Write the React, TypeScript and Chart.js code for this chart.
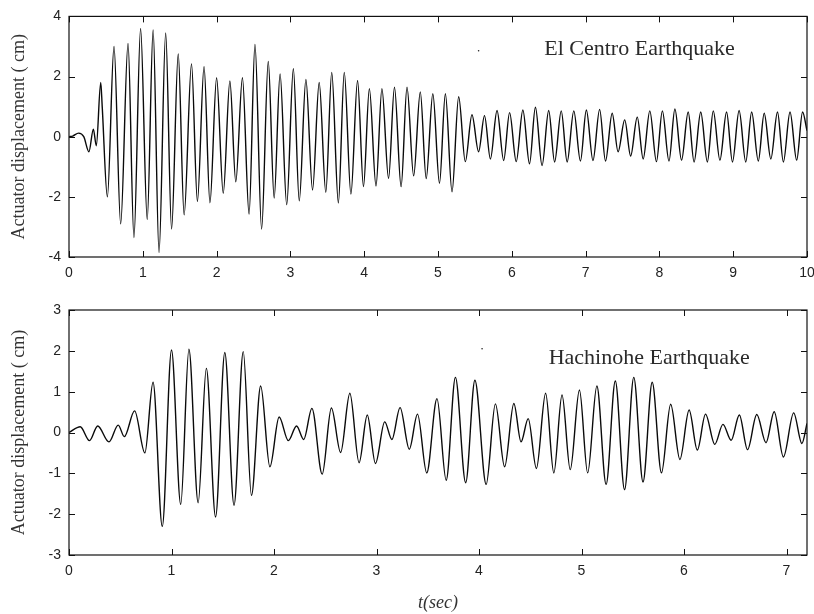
import React, { useEffect, useRef } from "react";
import { Chart, registerables } from "chart.js";

Chart.register(...registerables);

// ---- El Centro record (time in s, displacement in cm), read at peaks / troughs ----
const elCentroTime = [
  0, 0.05, 0.13, 0.2, 0.27, 0.33, 0.37, 0.43, 0.45, 0.52,
  0.61, 0.7, 0.8, 0.88, 0.97, 1.06, 1.14, 1.22, 1.31, 1.39,
  1.48, 1.56, 1.66, 1.74, 1.83, 1.91, 2.0, 2.09, 2.18, 2.26,
  2.35, 2.44, 2.52, 2.61, 2.7, 2.78, 2.86, 2.95, 3.04, 3.12,
  3.21, 3.3, 3.39, 3.48, 3.56, 3.65, 3.73, 3.82, 3.91, 3.99,
  4.07, 4.16, 4.24, 4.33, 4.41, 4.5, 4.58, 4.67, 4.76, 4.84,
  4.93, 5.02, 5.1, 5.19, 5.28, 5.37, 5.46, 5.55, 5.63, 5.71,
  5.8, 5.89, 5.97, 6.06, 6.15, 6.24, 6.32, 6.41, 6.5, 6.58,
  6.67, 6.75, 6.84, 6.93, 7.01, 7.1, 7.19, 7.27, 7.36, 7.44,
  7.53, 7.61, 7.7, 7.78, 7.87, 7.96, 8.04, 8.13, 8.21, 8.3,
  8.39, 8.47, 8.56, 8.65, 8.73, 8.82, 8.91, 8.99, 9.08, 9.17,
  9.25, 9.34, 9.42, 9.51, 9.6, 9.68, 9.77, 9.86, 9.94, 10.0,
];
const elCentroDisp = [
  0, 0.02, 0.12, 0.0, -0.5, 0.25, -0.3, 1.8, 1.0, -2.0,
  3.0, -2.9, 3.1, -3.35, 3.6, -2.75, 3.55, -3.85, 3.45, -3.07,
  2.75, -2.6, 2.42, -2.15, 2.33, -2.2, 1.96, -1.88, 1.85, -1.5,
  1.96, -2.57, 3.07, -3.07, 2.5, -2.04, 2.09, -2.26, 2.26, -2.13,
  1.9, -1.77, 1.8, -1.85, 2.14, -2.2, 2.14, -1.91, 1.87, -1.66,
  1.6, -1.64, 1.6, -1.39, 1.65, -1.66, 1.65, -1.3, 1.49, -1.39,
  1.43, -1.55, 1.43, -1.83, 1.33, -0.83, 0.73, -0.5, 0.7, -0.74,
  0.87, -0.79, 0.8, -0.83, 0.89, -0.9, 0.98, -0.96, 0.87, -0.84,
  0.86, -0.84, 0.86, -0.81, 0.89, -0.79, 0.91, -0.81, 0.78, -0.5,
  0.56, -0.64, 0.65, -0.74, 0.86, -0.83, 0.86, -0.81, 0.92, -0.78,
  0.82, -0.84, 0.82, -0.84, 0.86, -0.78, 0.82, -0.84, 0.87, -0.84,
  0.82, -0.81, 0.78, -0.74, 0.82, -0.84, 0.82, -0.78, 0.82, 0.2,
];

// ---- Hachinohe record ----
const hachinoheTime = [
  0, 0.11, 0.2, 0.28, 0.39, 0.48, 0.54, 0.64, 0.74, 0.82,
  0.91, 1.0, 1.09, 1.17, 1.26, 1.34, 1.43, 1.52, 1.61, 1.7,
  1.78, 1.87, 1.96, 2.05, 2.14, 2.22, 2.29, 2.37, 2.47, 2.56,
  2.65, 2.74, 2.83, 2.91, 2.99, 3.08, 3.15, 3.23, 3.32, 3.4,
  3.49, 3.59, 3.68, 3.77, 3.87, 3.96, 4.07, 4.16, 4.25, 4.34,
  4.41, 4.48, 4.56, 4.65, 4.73, 4.81, 4.89, 4.98, 5.06, 5.15,
  5.24, 5.33, 5.42, 5.51, 5.6, 5.69, 5.78, 5.87, 5.96, 6.05,
  6.13, 6.21, 6.3, 6.38, 6.46, 6.54, 6.62, 6.71, 6.8, 6.88,
  6.97, 7.07, 7.15, 7.2,
];
const hachinoheDisp = [
  0, 0.14, -0.2, 0.16, -0.23, 0.18, -0.1, 0.53, -0.5, 1.23,
  -2.3, 2.02, -1.76, 2.04, -1.72, 1.57, -2.07, 1.96, -1.78, 1.98,
  -1.54, 1.14, -0.84, 0.38, -0.2, 0.16, -0.17, 0.59, -1.02, 0.6,
  -0.49, 0.96, -0.74, 0.43, -0.76, 0.26, -0.17, 0.61, -0.41, 0.45,
  -0.99, 0.83, -1.17, 1.35, -1.23, 1.28, -1.27, 0.7, -0.84, 0.71,
  -0.23, 0.34, -0.88, 0.96, -0.99, 0.92, -0.91, 1.04, -0.99, 1.14,
  -1.27, 1.26, -1.4, 1.35, -1.21, 1.23, -0.99, 0.69, -0.66, 0.55,
  -0.43, 0.45, -0.29, 0.2, -0.19, 0.43, -0.42, 0.44, -0.25, 0.51,
  -0.6, 0.48, -0.27, 0.22,
];

// axis ranges / ticks
const elCentroXRange = [0, 10];
const elCentroYRange = [-4, 4];
const elCentroYStep = 2;
const hachinoheXRange = [0, 7.2];
const hachinoheYRange = [-3, 3];
const hachinoheYStep = 1;

// in-plot labels and their legend marks (data coordinates)
const elCentroLabel = "El Centro Earthquake";
const elCentroLabelAt = [6.44, 2.7];
const elCentroMark = [5.55, 2.86];
const hachinoheLabel = "Hachinohe Earthquake";
const hachinoheLabelAt = [4.68, 1.67];
const hachinoheMark = [4.03, 2.05];

const yTitle = "Actuator displacement ( cm)";
const xTitle = "t(sec)";

const SERIF = '"Liberation Serif", "Times New Roman", "DejaVu Serif", serif';
const SANS = '"Liberation Sans", Arial, Helvetica, sans-serif';

const framePlugin = {
  id: "frameTicks",
  afterDatasetsDraw(chart: any, _args: any, opts: any) {
    const { ctx, chartArea } = chart;
    const { left, right, top, bottom } = chartArea;
    const xs = chart.scales.x;
    const ys = chart.scales.y;
    const tl = 6;
    ctx.save();
    ctx.strokeStyle = "#111";
    ctx.lineWidth = 1.2;
    ctx.strokeRect(left, top, right - left, bottom - top);
    ctx.lineWidth = 1;
    ctx.beginPath();
    for (const t of xs.ticks) {
      const px = Math.round(xs.getPixelForValue(t.value)) + 0.5;
      ctx.moveTo(px, bottom);
      ctx.lineTo(px, bottom - tl);
      ctx.moveTo(px, top);
      ctx.lineTo(px, top + tl);
    }
    for (const t of ys.ticks) {
      const py = Math.round(ys.getPixelForValue(t.value)) + 0.5;
      ctx.moveTo(left, py);
      ctx.lineTo(left + tl, py);
      ctx.moveTo(right, py);
      ctx.lineTo(right - tl, py);
    }
    ctx.stroke();
    if (opts && opts.label) {
      ctx.fillStyle = "#2a2a2a";
      ctx.font = "22px " + SERIF;
      ctx.textAlign = "left";
      ctx.textBaseline = "alphabetic";
      ctx.fillText(
        opts.label,
        xs.getPixelForValue(opts.at[0]),
        ys.getPixelForValue(opts.at[1])
      );
    }
    ctx.restore();
  },
};

function makeConfig(
  times: number[],
  values: number[],
  xRange: number[],
  yRange: number[],
  yStep: number,
  label: string,
  labelAt: number[],
  mark: number[],
  yAxisWidth: number,
  xAxisHeight: number,
  padTop: number,
  padRight: number,
  showXTitle: boolean
): any {
  const pts = times.map((t, i) => ({ x: t, y: values[i] }));
  return {
    type: "line",
    data: {
      datasets: [
        {
          data: pts,
          borderColor: "#0a0a0a",
          borderWidth: 1.4,
          pointRadius: 0,
          fill: false,
          cubicInterpolationMode: "monotone",
        },
        {
          data: [{ x: mark[0], y: mark[1] }],
          showLine: false,
          pointRadius: 0.8,
          pointBackgroundColor: "#222",
          pointBorderWidth: 0,
        },
      ],
    },
    options: {
      responsive: false,
      animation: false,
      events: [],
      layout: { padding: { top: padTop, right: padRight, left: 0, bottom: 0 } },
      plugins: {
        legend: { display: false },
        tooltip: { enabled: false },
        frameTicks: { label, at: labelAt },
      },
      scales: {
        x: {
          type: "linear",
          min: xRange[0],
          max: xRange[1],
          grid: { display: false, drawTicks: false },
          border: { display: false },
          ticks: {
            stepSize: 1,
            includeBounds: false,
            padding: 8,
            color: "#222",
            font: { family: SANS, size: 14 },
            maxRotation: 0,
            autoSkip: false,
          },
          title: {
            display: showXTitle,
            text: xTitle,
            color: "#333",
            font: { family: SERIF, size: 18, style: "italic" },
            padding: { top: 0, bottom: 0 },
          },
          afterFit: (s: any) => {
            s.height = xAxisHeight;
            s.paddingLeft = 0;
            s.paddingRight = 0;
          },
        },
        y: {
          type: "linear",
          min: yRange[0],
          max: yRange[1],
          grid: { display: false, drawTicks: false },
          border: { display: false },
          ticks: {
            stepSize: yStep,
            padding: 8,
            color: "#222",
            font: { family: SANS, size: 14 },
          },
          title: {
            display: true,
            text: yTitle,
            color: "#333",
            font: { family: SERIF, size: 18 },
            padding: { top: 8, bottom: 0 },
          },
          afterFit: (s: any) => {
            s.width = yAxisWidth;
          },
        },
      },
    },
    plugins: [framePlugin],
  };
}

export default function App() {
  const topRef = useRef<HTMLCanvasElement>(null);
  const botRef = useRef<HTMLCanvasElement>(null);

  useEffect(() => {
    const c1 = new Chart(
      topRef.current as HTMLCanvasElement,
      makeConfig(
        elCentroTime,
        elCentroDisp,
        elCentroXRange,
        elCentroYRange,
        elCentroYStep,
        elCentroLabel,
        elCentroLabelAt,
        elCentroMark,
        69,
        33,
        12,
        7,
        false
      )
    );
    const c2 = new Chart(
      botRef.current as HTMLCanvasElement,
      makeConfig(
        hachinoheTime,
        hachinoheDisp,
        hachinoheXRange,
        hachinoheYRange,
        hachinoheYStep,
        hachinoheLabel,
        hachinoheLabelAt,
        hachinoheMark,
        69,
        59,
        20,
        7,
        true
      )
    );
    return () => {
      c1.destroy();
      c2.destroy();
    };
  }, []);

  return (
    <div
      style={{
        position: "absolute",
        left: 0,
        top: 0,
        width: 814,
        height: 614,
        overflow: "hidden",
        background: "#fff",
      }}
    >
      <canvas
        ref={topRef}
        width={814}
        height={290}
        style={{ position: "absolute", left: 0, top: 0, width: 814, height: 290 }}
      />
      <canvas
        ref={botRef}
        width={814}
        height={324}
        style={{ position: "absolute", left: 0, top: 290, width: 814, height: 324 }}
      />
    </div>
  );
}
